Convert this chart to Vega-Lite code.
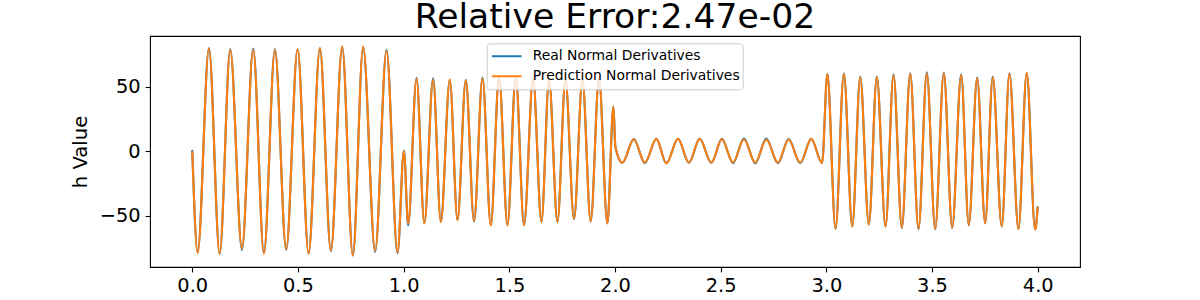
{
  "$schema": "https://vega.github.io/schema/vega-lite/v6.json",
  "width": 930,
  "height": 231,
  "autosize": {"type": "none"},
  "padding": {"left": 150, "top": 36, "right": 120, "bottom": 33},
  "background": "white",
  "title": {"text": "Relative Error:2.47e-02", "font": "DejaVu Sans", "fontSize": 34.6, "fontWeight": "normal", "color": "black", "baseline": "alphabetic", "offset": -27, "anchor": "middle", "frame": "group"},
  "config": {
    "view": {"stroke": "black", "strokeWidth": 1.1},
    "axis": {"domain": false, "grid": false, "ticks": true, "tickColor": "black", "tickSize": 4.9, "tickWidth": 1.1, "labelFont": "DejaVu Sans", "labelFontSize": 19.4, "labelColor": "black", "labelPadding": 4.9, "titleFont": "DejaVu Sans", "titleFontSize": 19.6, "titleFontWeight": "normal", "titleColor": "black"}
  },
  "data": {"values": [
    {"x": 0, "real": 1, "pred": 0},
    {"x": 0.0255, "real": -78, "pred": -79},
    {"x": 0.079, "real": 79.8, "pred": 79.5},
    {"x": 0.1296, "real": -79.5, "pred": -79.5},
    {"x": 0.1797, "real": 79, "pred": 78.5},
    {"x": 0.235, "real": -76.5, "pred": -75.5},
    {"x": 0.2884, "real": 79.5, "pred": 78.5},
    {"x": 0.339, "real": -79, "pred": -79.5},
    {"x": 0.391, "real": 79, "pred": 78.5},
    {"x": 0.4444, "real": -76.5, "pred": -76},
    {"x": 0.4983, "real": 79, "pred": 79},
    {"x": 0.5504, "real": -79, "pred": -79.5},
    {"x": 0.6038, "real": 79.5, "pred": 80},
    {"x": 0.6558, "real": -77.5, "pred": -77},
    {"x": 0.7092, "real": 80.5, "pred": 81},
    {"x": 0.7598, "real": -80.5, "pred": -81},
    {"x": 0.8085, "real": 80.5, "pred": 81},
    {"x": 0.8652, "real": -78, "pred": -77},
    {"x": 0.9191, "real": 78.5, "pred": 77.7},
    {"x": 0.9711, "real": -79, "pred": -78.5},
    {"x": 1.0014, "real": 0.5, "pred": 0},
    {"x": 1.0213, "real": -57.5, "pred": -56},
    {"x": 1.061, "real": 56.9, "pred": 56},
    {"x": 1.098, "real": -55.7, "pred": -56},
    {"x": 1.1395, "real": 56.5, "pred": 55.5},
    {"x": 1.176, "real": -54.4, "pred": -55},
    {"x": 1.2184, "real": 55.1, "pred": 55.5},
    {"x": 1.2548, "real": -53.1, "pred": -53.5},
    {"x": 1.2941, "real": 55.1, "pred": 55},
    {"x": 1.3333, "real": -54.4, "pred": -54},
    {"x": 1.3731, "real": 57, "pred": 56.5},
    {"x": 1.4123, "real": -57, "pred": -57.5},
    {"x": 1.4515, "real": 57.7, "pred": 57},
    {"x": 1.4913, "real": -57, "pred": -57.5},
    {"x": 1.5305, "real": 57.7, "pred": 57},
    {"x": 1.5697, "real": -57, "pred": -57.5},
    {"x": 1.6123, "real": 56.5, "pred": 56},
    {"x": 1.652, "real": -54.4, "pred": -55},
    {"x": 1.688, "real": 55.1, "pred": 55.5},
    {"x": 1.7277, "real": -54.4, "pred": -55},
    {"x": 1.7655, "real": 55.1, "pred": 55},
    {"x": 1.8061, "real": -52.6, "pred": -52.5},
    {"x": 1.8459, "real": 55.1, "pred": 55},
    {"x": 1.885, "real": -54.4, "pred": -54.5},
    {"x": 1.9243, "real": 56.5, "pred": 56},
    {"x": 1.964, "real": -55.7, "pred": -56},
    {"x": 1.9924, "real": 34.6, "pred": 34.6},
    {"x": 2.0019, "real": 3.3, "pred": 3.3},
    {"x": 2.035, "real": -9, "pred": -8.8},
    {"x": 2.0889, "real": 9.3, "pred": 9.2},
    {"x": 2.141, "real": -9.3, "pred": -8.8},
    {"x": 2.1958, "real": 9.5, "pred": 9.5},
    {"x": 2.243, "real": -9.3, "pred": -9.5},
    {"x": 2.2979, "real": 9.5, "pred": 9.5},
    {"x": 2.3499, "real": -9, "pred": -8.8},
    {"x": 2.4005, "real": 9.5, "pred": 9.5},
    {"x": 2.4558, "real": -9, "pred": -8.8},
    {"x": 2.5059, "real": 9.5, "pred": 9.2},
    {"x": 2.558, "real": -9.3, "pred": -8.8},
    {"x": 2.61, "real": 9.8, "pred": 9},
    {"x": 2.6638, "real": -9.3, "pred": -8.8},
    {"x": 2.7158, "real": 9.8, "pred": 9},
    {"x": 2.7707, "real": -9.3, "pred": -8.8},
    {"x": 2.8213, "real": 9.3, "pred": 9},
    {"x": 2.8766, "real": -9.3, "pred": -8.8},
    {"x": 2.9286, "real": 9.5, "pred": 9.5},
    {"x": 2.9797, "real": -9.3, "pred": -9.3},
    {"x": 3.0047, "real": 60, "pred": 59.7},
    {"x": 3.0435, "real": -60, "pred": -60.1},
    {"x": 3.0828, "real": 60.3, "pred": 60},
    {"x": 3.1225, "real": -58.3, "pred": -58.5},
    {"x": 3.1603, "real": 57.7, "pred": 57.5},
    {"x": 3.201, "real": -56.5, "pred": -57},
    {"x": 3.2388, "real": 57.7, "pred": 57.5},
    {"x": 3.2799, "real": -58.3, "pred": -58.5},
    {"x": 3.3177, "real": 59.5, "pred": 59},
    {"x": 3.357, "real": -59.5, "pred": -59.1},
    {"x": 3.3967, "real": 60.3, "pred": 60},
    {"x": 3.436, "real": -60.5, "pred": -60.1},
    {"x": 3.4752, "real": 61, "pred": 60.3},
    {"x": 3.5149, "real": -60.5, "pred": -60.1},
    {"x": 3.5556, "real": 60.8, "pred": 60.3},
    {"x": 3.5953, "real": -59.5, "pred": -59.1},
    {"x": 3.6378, "real": 59.5, "pred": 59},
    {"x": 3.6738, "real": -57.5, "pred": -57},
    {"x": 3.7135, "real": 57, "pred": 56.5},
    {"x": 3.7513, "real": -55.7, "pred": -56},
    {"x": 3.7872, "real": 57.7, "pred": 57.5},
    {"x": 3.8298, "real": -58.3, "pred": -58.5},
    {"x": 3.8662, "real": 60.3, "pred": 60},
    {"x": 3.9087, "real": -60.1, "pred": -60.5},
    {"x": 3.948, "real": 60.5, "pred": 60.8},
    {"x": 3.9877, "real": -60.5, "pred": -60.9},
    {"x": 4.0, "real": -42.8, "pred": -43}
  ]},
  "encoding": {
    "x": {"field": "x", "type": "quantitative", "scale": {"domain": [-0.2, 4.2], "nice": false, "zero": false},
      "axis": {"title": null, "values": [0, 0.5, 1, 1.5, 2, 2.5, 3, 3.5, 4], "format": ".1f", "labelFlush": false, "labelOverlap": false}}
  },
  "layer": [
    {
      "mark": {"type": "line", "interpolate": "monotone", "strokeWidth": 2.1, "clip": true},
      "encoding": {
        "y": {"field": "real", "type": "quantitative", "scale": {"domain": [-89.7, 89.2], "nice": false, "zero": false},
          "axis": {"title": "h Value", "values": [-50, 0, 50], "format": "d", "titleX": -63.3, "titleY": 115.5, "titleBaseline": "alphabetic", "titleAngle": -90, "titleAlign": "center"}},
        "color": {"datum": "Real Normal Derivatives", "type": "nominal",
          "scale": {"domain": ["Real Normal Derivatives", "Prediction Normal Derivatives"], "range": ["#1f77b4", "#ff7f0e"]},
          "legend": {"orient": "none", "legendX": 336.7, "legendY": 7.3, "title": null, "symbolType": "stroke", "symbolSize": 880, "symbolStrokeWidth": 2, "labelFont": "DejaVu Sans", "labelFontSize": 13.9, "labelColor": "black", "labelOffset": 10, "padding": 3, "fillColor": "rgba(255,255,255,0.8)", "strokeColor": "#cccccc", "cornerRadius": 3, "clipHeight": 20, "rowPadding": 0, "symbolOffset": 1, "labelLimit": 0}}
      }
    },
    {
      "mark": {"type": "line", "interpolate": "monotone", "strokeWidth": 2.1, "clip": true},
      "encoding": {
        "y": {"field": "pred", "type": "quantitative"},
        "color": {"datum": "Prediction Normal Derivatives", "type": "nominal"}
      }
    }
  ]
}
